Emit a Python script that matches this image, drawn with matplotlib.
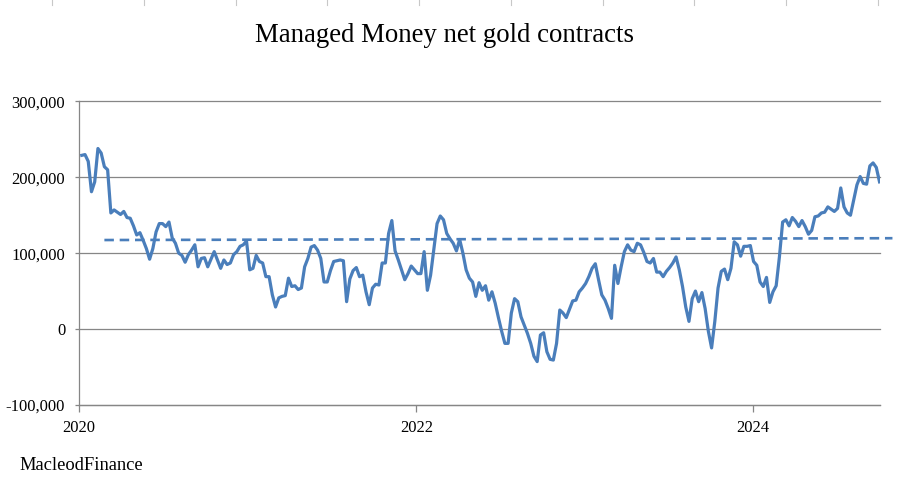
import numpy as np
import pandas as pd
import matplotlib
matplotlib.use('Agg')
import matplotlib.pyplot as plt
from matplotlib.ticker import FuncFormatter
from matplotlib.lines import Line2D

# Weekly COT reports, Managed Money net gold contracts (thousands), from 2020-01-07
first_report = '2020-01-07'
net_k = [
    229, 230, 221, 181, 194, 238, 232, 214, 210, 153,
    157, 154, 151, 155, 147, 146, 136, 124, 127, 117,
    106, 92, 106, 128, 139, 139, 135, 141, 120, 113,
    100, 97, 88, 98, 104, 111, 82, 93, 94, 82,
    92, 102, 91, 80, 91, 85, 87, 98, 102, 109,
    111, 116, 78, 80, 97, 89, 87, 69, 69, 45,
    29, 41, 43, 44, 67, 56, 57, 52, 54, 82,
    93, 108, 110, 104, 93, 62, 62, 77, 89, 90,
    91, 90, 36, 66, 77, 81, 69, 71, 49, 32,
    54, 59, 58, 87, 87, 126, 143, 103, 91, 78,
    65, 73, 83, 78, 73, 73, 102, 51, 71, 105,
    139, 149, 144, 126, 119, 113, 103, 118, 100, 78,
    67, 62, 43, 61, 51, 57, 38, 49, 34, 15,
    -3, -19, -19, 21, 40, 36, 16, 5, -6, -19,
    -36, -43, -8, -5, -30, -40, -41, -19, 25, 21,
    15, 26, 37, 38, 49, 54, 60, 69, 80, 86,
    65, 45, 38, 27, 14, 84, 60, 82, 102, 111,
    104, 102, 113, 111, 101, 89, 87, 93, 75, 75,
    69, 76, 81, 87, 95, 78, 56, 29, 10, 40,
    50, 36, 48, 27, -3, -25, 10, 54, 76, 79,
    65, 80, 115, 111, 96, 109, 109, 110, 89, 84,
    62, 56, 68, 35, 49, 57, 95, 141, 144, 136,
    147, 142, 135, 143, 135, 125, 130, 148, 149, 153,
    154, 161, 158, 155, 159, 186, 161, 153, 150, 170,
    190, 201, 192, 191, 215, 219, 213, 194,
]

# dashed trend line (week offset, thousands)
trend_weeks = [7, 251]
trend_k = [117.3, 119.7]

year_ticks = ['2020-01-01', '2022-01-01', '2024-01-01']
year_labels = ['2020', '2022', '2024']
y_ticks = [-100000, 0, 100000, 200000, 300000]

plt.rcParams['font.family'] = ['Liberation Serif', 'DejaVu Serif']

start = pd.Timestamp(first_report)
dates = start + pd.to_timedelta(np.arange(len(net_k)) * 7, unit='D')
values = np.array(net_k) * 1000
trend_dates = start + pd.to_timedelta(np.array(trend_weeks) * 7, unit='D')
trend_vals = np.array(trend_k) * 1000

blue = '#4A7EBB'
grid_col = '#868686'

fig = plt.figure(figsize=(9.02, 5.0), dpi=100)
ax = fig.add_axes([0.0876, 0.1904, 0.888, 0.6066])

ax.plot(dates, values, color=blue, linewidth=2.3, solid_joinstyle='round', zorder=3)
ax.plot(trend_dates, trend_vals, color=blue, linewidth=1.9, linestyle=(0, (3.6, 2.2)),
        clip_on=False, zorder=3)

ax.set_ylim(-100000, 300000)
ax.set_yticks(y_ticks)
ax.yaxis.set_major_formatter(FuncFormatter(lambda y, _: f'{int(y):,}'))
ax.set_xlim(pd.Timestamp('2020-01-01'), dates[-1] + pd.Timedelta(days=1))
ax.set_xticks(pd.to_datetime(year_ticks))
ax.set_xticklabels(year_labels)

# horizontal gridlines, unclipped so the top one is drawn in full
for yv in y_ticks:
    ax.axhline(yv, color=grid_col, linewidth=0.9, clip_on=False, zorder=1)
for side in ['top', 'right']:
    ax.spines[side].set_visible(False)
for side in ['left', 'bottom']:
    ax.spines[side].set_color(grid_col)
    ax.spines[side].set_linewidth(0.9)

ax.tick_params(axis='y', length=3, width=0.9, color=grid_col, labelsize=12, pad=7)
ax.tick_params(axis='x', length=5, width=0.9, color=grid_col, labelsize=12, pad=6)

fig.text(0.493, 0.929, 'Managed Money net gold contracts', ha='center', va='center',
         fontsize=19.3)
fig.text(0.022, 0.069, 'MacleodFinance', ha='left', va='center', fontsize=13.3)

# faint column separators along the top edge of the sheet
for k in range(10):
    xf = (52 + 91.75 * k) / 902
    fig.add_artist(Line2D([xf, xf], [1.0, 0.99], color='#c8c8c8', linewidth=0.8))

fig.savefig('out.png', dpi=100)
